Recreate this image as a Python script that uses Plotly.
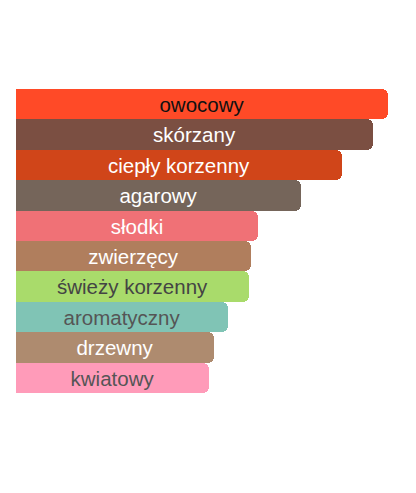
import plotly.graph_objects as go

# %%
notes = ["owocowy", "skórzany", "ciepły korzenny", "agarowy", "słodki",
         "zwierzęcy", "świeży korzenny", "aromatyczny", "drzewny", "kwiatowy"]
strength = [372, 357, 326, 285, 242, 235, 233, 212, 198, 193]
bar_colors = ["#FF4A27", "#7B4F42", "#D04519", "#75655A", "#F07176",
              "#B07E5D", "#A9DB6B", "#80C4B5", "#AE8B6F", "#FF9BB9"]
text_colors = ["#111111", "#FFFFFF", "#FFFFFF", "#FFFFFF", "#FFFFFF",
               "#FFFFFF", "#444444", "#555555", "#FFFFFF", "#555555"]

# %%
fig = go.Figure(
    go.Bar(
        x=strength,
        y=notes,
        orientation="h",
        marker=dict(color=bar_colors, cornerradius=6, line=dict(width=0)),
        text=notes,
        textposition="inside",
        insidetextanchor="middle",
        textangle=0,
        textfont=dict(family="Liberation Sans, Arial", size=20.5, color=text_colors),
        hoverinfo="skip",
    )
)

# page body adds 8px, so margins are trimmed to land bars where the reference has them
fig.update_layout(
    width=408,
    height=485,
    margin=dict(l=8, r=0, t=81, b=100),
    bargap=0,
    plot_bgcolor="white",
    paper_bgcolor="white",
    showlegend=False,
    uniformtext=dict(minsize=18, mode="show"),
)
fig.update_xaxes(range=[0, 400], visible=False, fixedrange=True)
fig.update_yaxes(autorange="reversed", visible=False, fixedrange=True)

fig.write_html("out.html")
